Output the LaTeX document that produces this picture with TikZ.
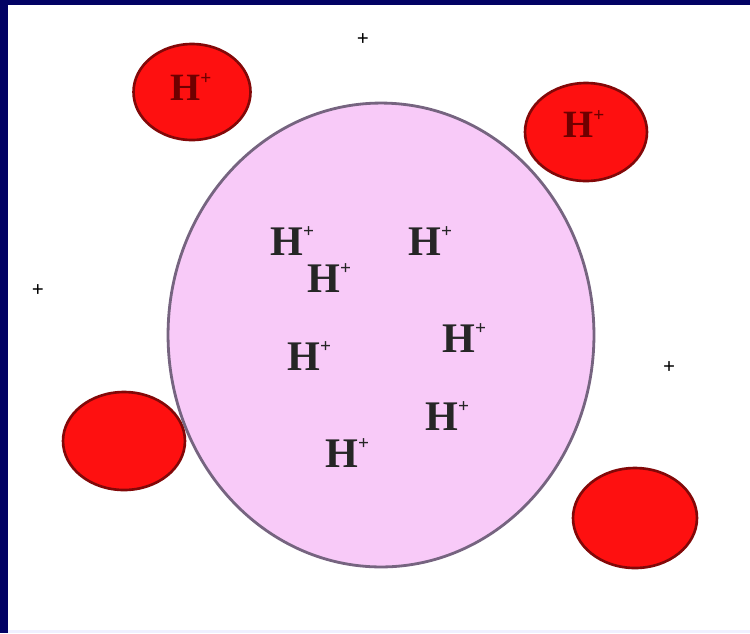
\documentclass[tikz,border=0pt]{standalone}
\usepackage{fontspec}
\setmainfont{Liberation Serif}
\definecolor{navy}{RGB}{2,2,100}
\definecolor{cellpink}{RGB}{248,202,248}
\definecolor{cellline}{RGB}{118,100,128}
\definecolor{ionred}{RGB}{254,16,16}
\definecolor{ionline}{RGB}{130,8,8}
\definecolor{iontext}{RGB}{110,0,0}
\newcommand{\hplus}{H\raisebox{0.9ex}{\fontsize{11}{11}\selectfont+}}
\begin{document}
\begin{tikzpicture}[x=0.02cm,y=-0.02cm,
		cell/.style={draw=cellline,line width=1.6pt,fill=cellpink},
		ion/.style={draw=ionline,line width=1.5pt,fill=ionred},
		proton/.style={inner sep=0pt,anchor=base west,text=black!85,font=\bfseries\fontsize{24}{24}\selectfont},
		outproton/.style={proton,text=iontext,font=\bfseries\fontsize{22}{22}\selectfont},
		spark/.style={inner sep=0pt,font=\bfseries\fontsize{12}{12}\selectfont}]
	\useasboundingbox (0,0) rectangle (750,633);
	\fill[navy] (0,0) rectangle (750,633);
	\fill[white] (8,5) rectangle (750,630);
	\fill[blue!6] (8,630) rectangle (750,633);
	\draw[cell] (381,335) ellipse [x radius=4.26cm, y radius=4.64cm];
	\draw[ion] (192,92) ellipse [x radius=1.17cm, y radius=0.96cm];
	\draw[ion] (586,132) ellipse [x radius=1.22cm, y radius=0.98cm];
	\draw[ion] (124,441) ellipse [x radius=1.22cm, y radius=0.98cm];
	\draw[ion] (635,518) ellipse [x radius=1.24cm, y radius=1.0cm];
	\node[proton] (h1) at (270,255) {\hplus};
	\node[proton] (h2) at (408,255) {\hplus};
	\node[proton] (h3) at (307,292) {\hplus};
	\node[proton] (h4) at (287,370) {\hplus};
	\node[proton] (h5) at (442,352) {\hplus};
	\node[proton] (h6) at (425,430) {\hplus};
	\node[proton] (h7) at (325,467) {\hplus};
	\node[outproton] (ha) at (170,100) {\hplus};
	\node[outproton] (hb) at (563,137) {\hplus};
	\node[spark] (s1) at (363,40) {+};
	\node[spark] (s2) at (38,291) {+};
	\node[spark] (s3) at (669,368) {+};
\end{tikzpicture}
\end{document}
